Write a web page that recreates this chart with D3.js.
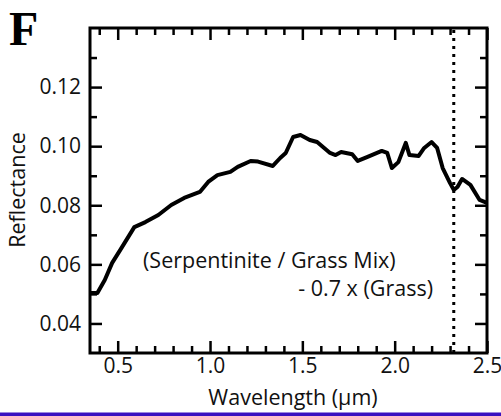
<!DOCTYPE html>
<html>
<head>
<meta charset="utf-8">
<script src="https://cdn.jsdelivr.net/npm/d3@7"></script>
<style>
  body { margin: 0; background: #fff; }
  svg { display: block; }
  .axis text { font-family: "Open Sans", sans-serif; font-size: 21px; fill: #111; }
  .axis line { stroke: #000; stroke-width: 2.5; }
</style>
</head>
<body>
<div class="chart"></div>
<script>
const WIDTH = 501;
const HEIGHT = 416;
const LEFT = 90, RIGHT = 487, TOP = 28, BOTTOM = 353;

// spectrum: (Serpentinite / Grass Mix) - 0.7 x (Grass)
var wavelength = [0.35, 0.39, 0.43, 0.47, 0.52, 0.59, 0.65, 0.72, 0.79, 0.86, 0.945, 0.99, 1.04, 1.11, 1.15, 1.22, 1.26, 1.34, 1.38, 1.41, 1.45, 1.49, 1.54, 1.58, 1.65, 1.68, 1.71, 1.77, 1.80, 1.85, 1.93, 1.96, 1.985, 2.02, 2.06, 2.08, 2.13, 2.16, 2.20, 2.23, 2.26, 2.30, 2.32, 2.34, 2.365, 2.41, 2.46, 2.50];
var reflectance = [0.0503, 0.0503, 0.0547, 0.0605, 0.0655, 0.0726, 0.0743, 0.0767, 0.0801, 0.0825, 0.0845, 0.0879, 0.0902, 0.0913, 0.0930, 0.0950, 0.0948, 0.0933, 0.0960, 0.0977, 0.1031, 0.1038, 0.1021, 0.1014, 0.0977, 0.0970, 0.0980, 0.0973, 0.0950, 0.0963, 0.0984, 0.0977, 0.0926, 0.0946, 0.1011, 0.0970, 0.0967, 0.0994, 0.1014, 0.0994, 0.0926, 0.0875, 0.0852, 0.0862, 0.0889, 0.0869, 0.0818, 0.0808];

var xMajor = [0.5, 1.0, 1.5, 2.0, 2.5];
var xMinor = [0.4, 0.6, 0.7, 0.8, 0.9, 1.1, 1.2, 1.3, 1.4, 1.6, 1.7, 1.8, 1.9, 2.1, 2.2, 2.3, 2.4];
var yMajor = [0.04, 0.06, 0.08, 0.10, 0.12];
var yMinor = [0.05, 0.07, 0.09, 0.11, 0.13];
var markerWavelength = 2.32;

var x = d3.scaleLinear().domain([0.35, 2.5]).range([LEFT, RIGHT]);
var y = d3.scaleLinear().domain([0.03, 0.14]).range([BOTTOM, TOP]);

var svg = d3.select('.chart').append('svg')
    .attr('width', WIDTH)
    .attr('height', HEIGHT);

var translate = function (a, b) {
    return "translate(" + a + "," + b + ")";
};

var addAxis = function (axis, tx, ty) {
    var g = svg.append("g").attr("class", "axis").attr("transform", translate(tx, ty)).call(axis);
    g.select(".domain").remove();
    return g;
};

// bottom
addAxis(d3.axisBottom(x).tickValues(xMajor).tickSize(-12).tickPadding(5).tickFormat(d3.format(".1f")), 0, BOTTOM);
addAxis(d3.axisBottom(x).tickValues(xMinor).tickSize(-7).tickFormat(""), 0, BOTTOM);
// top
addAxis(d3.axisTop(x).tickValues(xMajor).tickSize(-12).tickFormat(""), 0, TOP);
addAxis(d3.axisTop(x).tickValues(xMinor).tickSize(-7).tickFormat(""), 0, TOP);
// left
addAxis(d3.axisLeft(y).tickValues(yMajor).tickSize(-12).tickPadding(9).tickFormat(d3.format(".2f")), LEFT, 0);
addAxis(d3.axisLeft(y).tickValues(yMinor).tickSize(-7).tickFormat(""), LEFT, 0);
// right
addAxis(d3.axisRight(y).tickValues(yMajor).tickSize(-12).tickFormat(""), RIGHT, 0);
addAxis(d3.axisRight(y).tickValues(yMinor).tickSize(-7).tickFormat(""), RIGHT, 0);

// frame
svg.append("rect")
    .attr("x", LEFT).attr("y", TOP)
    .attr("width", RIGHT - LEFT).attr("height", BOTTOM - TOP)
    .attr("fill", "none").attr("stroke", "#000").attr("stroke-width", 3);

// dotted marker
svg.append("line")
    .attr("x1", x(markerWavelength)).attr("x2", x(markerWavelength))
    .attr("y1", TOP + 2).attr("y2", BOTTOM)
    .attr("stroke", "#000").attr("stroke-width", 3)
    .attr("stroke-dasharray", "3,5");

var line = d3.line()
    .x(function (d, i) { return x(wavelength[i]); })
    .y(function (d) { return y(d); });

svg.append("path")
    .datum(reflectance)
    .attr("d", line)
    .attr("fill", "none")
    .attr("stroke", "#000")
    .attr("stroke-width", 4)
    .attr("stroke-linejoin", "round");

var txt = function (s, tx, ty, anchor, size) {
    return svg.append("text")
        .attr("x", tx).attr("y", ty)
        .attr("text-anchor", anchor)
        .style("font-family", '"Open Sans", sans-serif')
        .style("font-size", size + "px")
        .style("fill", "#111")
        .text(s);
};

txt("(Serpentinite / Grass Mix)", 143, 268, "start", 21.5);
txt("- 0.7 x (Grass)", 433, 296, "end", 21.5);
txt("Wavelength (\u00b5m)", 293, 405, "middle", 21.5);
txt("Reflectance", 0, 0, "middle", 21.5)
    .attr("transform", translate(25, 190) + " rotate(-90)");

svg.append("text")
    .attr("x", 9).attr("y", 45)
    .style("font-family", '"Liberation Serif", "Times New Roman", serif')
    .style("font-weight", "bold")
    .style("font-size", "48px")
    .text("F");

// bottom band
svg.append("rect")
    .attr("x", 0).attr("y", 412.5)
    .attr("width", WIDTH).attr("height", HEIGHT - 412.5)
    .attr("fill", "#3a10c0");
</script>
</body>
</html>
